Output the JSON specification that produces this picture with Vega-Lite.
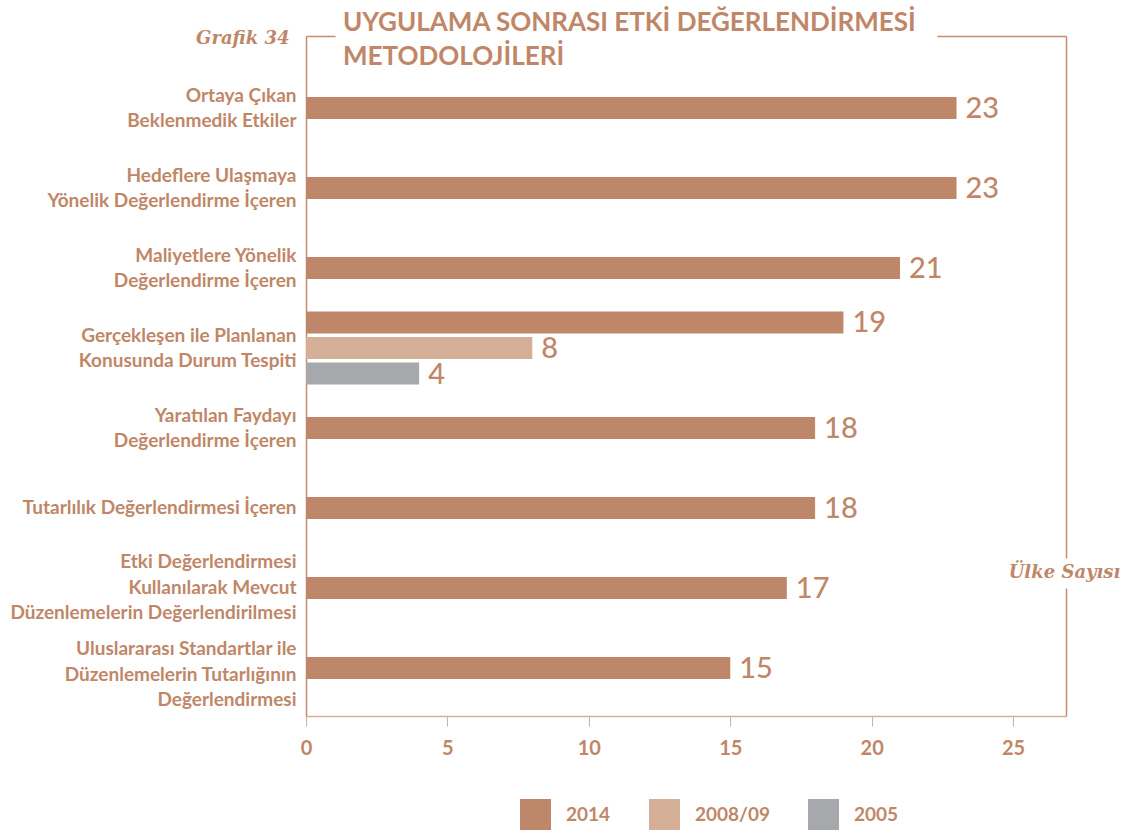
{
  "$schema": "https://vega.github.io/schema/vega-lite/v6.json",
  "width": 760,
  "height": 680,
  "autosize": "none",
  "padding": {"left": 306, "top": 36, "right": 82, "bottom": 120},
  "background": "white",
  "config": {
    "view": {"stroke": null},
    "font": "Lato"
  },
  "title": {
    "text": ["UYGULAMA SONRASI ETKİ DEĞERLENDİRMESİ", "METODOLOJİLERİ"],
    "anchor": "start",
    "frame": "group",
    "orient": "top",
    "baseline": "top",
    "offset": 0,
    "dx": 37,
    "dy": 41,
    "font": "Lato",
    "fontSize": 26,
    "fontWeight": "bold",
    "color": "#BF8768",
    "lineHeight": 34
  },
  "data": {
    "values": [
      {"cat": "Ortaya Çıkan\nBeklenmedik Etkiler", "year": "2014", "value": 23},
      {"cat": "Hedeflere Ulaşmaya\nYönelik Değerlendirme İçeren", "year": "2014", "value": 23},
      {"cat": "Maliyetlere Yönelik\nDeğerlendirme İçeren", "year": "2014", "value": 21},
      {"cat": "Gerçekleşen ile Planlanan\nKonusunda Durum Tespiti\u00a0", "year": "2014", "value": 19},
      {"cat": "Gerçekleşen ile Planlanan\nKonusunda Durum Tespiti\u00a0", "year": "2008/09", "value": 8},
      {"cat": "Gerçekleşen ile Planlanan\nKonusunda Durum Tespiti\u00a0", "year": "2005", "value": 4},
      {"cat": "Yaratılan Faydayı\nDeğerlendirme İçeren", "year": "2014", "value": 18},
      {"cat": "Tutarlılık Değerlendirmesi İçeren", "year": "2014", "value": 18},
      {"cat": "Etki Değerlendirmesi\u00a0\nKullanılarak Mevcut\nDüzenlemelerin Değerlendirilmesi", "year": "2014", "value": 17},
      {"cat": "Uluslararası Standartlar ile\nDüzenlemelerin Tutarlığının\nDeğerlendirmesi", "year": "2014", "value": 15}
    ]
  },
  "transform": [
    {"joinaggregate": [{"op": "count", "as": "n"}], "groupby": ["cat"]}
  ],
  "layer": [
    {
      "transform": [{"filter": "datum.n == 1"}],
      "encoding": {
        "y": {
          "field": "cat",
          "type": "nominal",
          "scale": {
            "domain": [
              "Ortaya Çıkan\nBeklenmedik Etkiler",
              "Hedeflere Ulaşmaya\nYönelik Değerlendirme İçeren",
              "Maliyetlere Yönelik\nDeğerlendirme İçeren",
              "Gerçekleşen ile Planlanan\nKonusunda Durum Tespiti\u00a0",
              "Yaratılan Faydayı\nDeğerlendirme İçeren",
              "Tutarlılık Değerlendirmesi İçeren",
              "Etki Değerlendirmesi\u00a0\nKullanılarak Mevcut\nDüzenlemelerin Değerlendirilmesi",
              "Uluslararası Standartlar ile\nDüzenlemelerin Tutarlığının\nDeğerlendirmesi"
            ],
            "paddingInner": 0, "paddingOuter": 0.25, "align": 0.8
          },
          "axis": {
            "orient": "left",
            "labelExpr": "split(datum.label, '\\n')",
            "labelFont": "Lato",
            "labelFontSize": 19,
            "labelFontWeight": "bold",
            "labelColor": "#BF8768",
            "labelLineHeight": 25.5,
            "labelPadding": 10,
            "labelLimit": 400,
            "labelOffset": {
              "condition": [
                {"test": "indexof(datum.value, 'Uluslararası') == 0", "value": -19},
                {"test": "length(split(datum.value, '\\n')) == 3", "value": -26},
                {"test": "length(split(datum.value, '\\n')) == 2", "value": -12.5}
              ],
              "value": 0
            },
            "ticks": false,
            "domainColor": "#C58B6E",
            "domainWidth": 1.5,
            "title": "Grafik 34",
            "titleAngle": 0,
            "titleAlign": "right",
            "titleBaseline": "middle",
            "titleX": -17,
            "titleY": 2,
            "titleFont": "DejaVu Serif",
            "titleFontStyle": "italic",
            "titleFontWeight": "bold",
            "titleFontSize": 18,
            "titleColor": "#BF8768"
          }
        },
        "x": {
          "field": "value",
          "type": "quantitative",
          "scale": {"domain": [0, 26.87], "nice": false},
          "axis": {
            "orient": "bottom",
            "values": [0, 5, 10, 15, 20, 25],
            "grid": false,
            "labelFlush": false,
            "domainColor": "#D6AE98",
            "domainWidth": 1.5,
            "tickColor": "#D6AE98",
            "tickSize": 10,
            "labelFont": "Lato",
            "labelFontSize": 20,
            "labelFontWeight": "bold",
            "labelColor": "#BF8768",
            "labelPadding": 12,
            "title": "Ülke Sayısı",
            "titleX": 758,
            "titleY": -144,
            "titleAlign": "center",
            "titleBaseline": "middle",
            "titleFont": "DejaVu Serif",
            "titleFontStyle": "italic",
            "titleFontWeight": "bold",
            "titleFontSize": 18,
            "titleColor": "#BF8768"
          }
        },
        "color": {
          "field": "year",
          "type": "nominal",
          "scale": {"domain": ["2014", "2008/09", "2005"], "range": ["#BE8769", "#D5AE97", "#A7A8AC"]},
          "legend": {
            "orient": "none",
            "legendX": 214,
            "legendY": 763,
            "direction": "horizontal",
            "title": null,
            "symbolType": "square",
            "symbolSize": 961,
            "symbolStrokeWidth": 0,
            "symbolOpacity": 1,
            "labelFont": "Lato",
            "labelFontSize": 19,
            "labelFontWeight": "bold",
            "labelColor": "#BF8768",
            "labelOffset": 15,
            "columnPadding": 38
          }
        }
      },
      "layer": [
        {"mark": {"type": "bar", "size": 22}},
        {
          "mark": {"type": "text", "align": "left", "baseline": "middle", "dx": 9, "dy": 1, "fontSize": 29, "fontWeight": 500, "font": "Lato"},
          "encoding": {"text": {"field": "value", "type": "quantitative"}, "color": {"value": "#BF8768"}}
        }
      ]
    },
    {
      "transform": [{"filter": "datum.n > 1"}],
      "encoding": {
        "y": {
          "field": "cat",
          "type": "nominal",
          "axis": {
            "orient": "right",
            "labels": false,
            "ticks": false,
            "title": null,
            "domainColor": "#C58B6E",
            "domainWidth": 1.5,
            "domainDash": [522, 30, 400]
          }
        },
        "yOffset": {
          "field": "year",
          "type": "nominal",
          "sort": ["2014", "2008/09", "2005"],
          "scale": {"domain": ["2014", "2008/09", "2005"], "paddingInner": 0.137, "paddingOuter": 0.137}
        },
        "x": {
          "field": "value",
          "type": "quantitative",
          "axis": {
            "orient": "top",
            "labels": false,
            "ticks": false,
            "grid": false,
            "title": null,
            "domainColor": "#C58B6E",
            "domainWidth": 1.5,
            "domainDash": [29, 602, 800]
          }
        },
        "color": {"field": "year", "type": "nominal"}
      },
      "layer": [
        {"mark": {"type": "bar"}},
        {
          "mark": {"type": "text", "align": "left", "baseline": "middle", "dx": 9, "dy": 1, "fontSize": 29, "fontWeight": 500, "font": "Lato"},
          "encoding": {"text": {"field": "value", "type": "quantitative"}, "color": {"value": "#BF8768"}}
        }
      ]
    }
  ],
  "resolve": {"axis": {"x": "independent", "y": "independent"}}
}
